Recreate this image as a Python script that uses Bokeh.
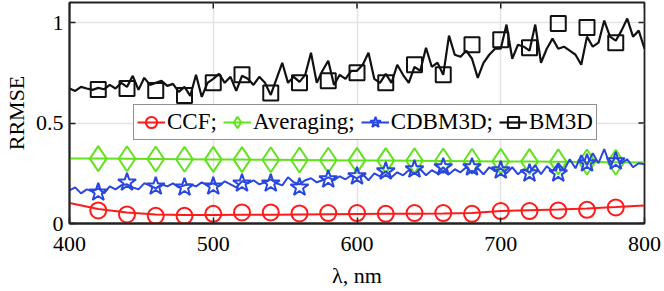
from bokeh.plotting import figure
from bokeh.models import FixedTicker, Legend, LegendItem, Range1d
from bokeh.embed import file_html
from bokeh.resources import INLINE

# ---- data ----
wl_dense = list(range(400, 801, 4))
bm3d_line = [
    0.672, 0.660, 0.680, 0.672, 0.665, 0.675, 0.668, 0.690, 0.672, 0.700,
    0.680, 0.735, 0.665, 0.725, 0.690, 0.700, 0.710, 0.685, 0.695, 0.655,
    0.680, 0.635, 0.740, 0.630, 0.700,
    0.720, 0.745, 0.700, 0.730, 0.660, 0.735, 0.720, 0.690, 0.730, 0.700,
    0.640, 0.720, 0.800, 0.700, 0.730, 0.705, 0.740, 0.850, 0.700, 0.760,
    0.810, 0.690, 0.740, 0.720, 0.760,
    0.760, 0.790, 0.850, 0.720, 0.700, 0.745, 0.700, 0.790, 0.740, 0.700,
    0.780, 0.760, 0.875, 0.780, 0.800, 0.740, 0.935, 0.840, 0.830, 0.860,
    0.820, 0.725, 0.800, 0.840, 0.870,
    0.870, 0.990, 0.820, 0.890, 0.880, 0.860, 0.990, 0.800, 0.870, 0.920,
    0.870, 0.880, 0.860, 0.840, 0.790, 0.930, 0.880, 0.900, 1.010, 0.930,
    0.910, 0.960, 1.020, 0.930, 0.960, 0.870,
]
cdbm3d_line = [
    0.165, 0.180, 0.150, 0.170, 0.160, 0.175, 0.150, 0.185, 0.170, 0.190,
    0.195, 0.180, 0.170, 0.200, 0.190, 0.175, 0.195, 0.185, 0.200, 0.180,
    0.190, 0.195, 0.185, 0.205, 0.190,
    0.200, 0.185, 0.210, 0.195, 0.180, 0.210, 0.200, 0.215, 0.195, 0.205,
    0.220, 0.200, 0.190, 0.230, 0.205, 0.195, 0.215, 0.225, 0.205, 0.215,
    0.230, 0.215, 0.235, 0.220, 0.240,
    0.225, 0.245, 0.215, 0.250, 0.235, 0.260, 0.230, 0.255, 0.240, 0.265,
    0.245, 0.270, 0.240, 0.265, 0.250, 0.280, 0.245, 0.270, 0.255, 0.280,
    0.250, 0.275, 0.245, 0.280, 0.260,
    0.275, 0.250, 0.280, 0.245, 0.270, 0.255, 0.290, 0.245, 0.285, 0.260,
    0.300, 0.265, 0.320, 0.275, 0.340, 0.290, 0.350, 0.300, 0.370, 0.290,
    0.330, 0.300, 0.320, 0.280, 0.300, 0.295,
]
wl_coarse = list(range(400, 801, 20))
avg_line = [0.323, 0.323, 0.322, 0.321, 0.320, 0.319, 0.318, 0.317, 0.316, 0.315,
            0.314, 0.313, 0.312, 0.311, 0.310, 0.309, 0.308, 0.307, 0.306, 0.305, 0.304]
ccf_line = [0.102, 0.072, 0.055, 0.045, 0.042, 0.042, 0.043, 0.044, 0.045, 0.046,
            0.047, 0.048, 0.049, 0.050, 0.052, 0.062, 0.066, 0.070, 0.075, 0.082, 0.090]

wl_marks = list(range(420, 781, 20))
bm3d_marks = [0.667, 0.672, 0.662, 0.637, 0.700, 0.740, 0.650, 0.700, 0.710, 0.750,
              0.700, 0.790, 0.740, 0.890, 0.915, 0.875, 0.995, 0.975, 0.900]
cdbm3d_marks = [0.155, 0.205, 0.185, 0.180, 0.185, 0.200, 0.200, 0.180, 0.220, 0.235,
                0.260, 0.270, 0.280, 0.280, 0.265, 0.250, 0.250, 0.300, 0.310]
avg_marks = [0.323, 0.322, 0.321, 0.320, 0.319, 0.318, 0.317, 0.316, 0.315, 0.314,
             0.313, 0.312, 0.311, 0.310, 0.309, 0.308, 0.307, 0.306, 0.305]
ccf_marks = [0.065, 0.045, 0.038, 0.038, 0.048, 0.055, 0.055, 0.050, 0.052, 0.052,
             0.048, 0.052, 0.052, 0.048, 0.062, 0.062, 0.065, 0.068, 0.080]

x_ticks = [400, 500, 600, 700, 800]
y_ticks = [0, 0.5, 1]
y_labels = {0: "0", 0.5: "0.5", 1: "1"}

RED = "#ff1a1a"
GREEN = "#62e21c"
BLUE = "#2a46e0"
BLACK = "#111111"
FONT = "Liberation Serif"

X0, X1 = 400, 800
Y0, Y1 = 0, 1.1
W, H = 664, 291
BL, BR, BT, BB = 69, 20, 2, 68
FW, FH = W - BL - BR, H - BT - BB

p = figure(width=W, height=H, output_backend="svg", toolbar_location=None,
           x_range=Range1d(X0, X1), y_range=Range1d(Y0, Y1),
           min_border_left=BL, min_border_right=BR, min_border_top=BT, min_border_bottom=BB,
           x_axis_label="λ, nm", y_axis_label="RRMSE")
p.styles = {"position": "absolute", "left": "0px", "top": "0px"}
p.background_fill_color = "white"
p.border_fill_color = "white"
p.outline_line_color = "#222222"
p.outline_line_width = 1.8

for ax in (p.xaxis[0], p.yaxis[0]):
    ax.major_tick_in = 6
    ax.major_tick_out = 0
    ax.minor_tick_line_color = None
    ax.major_tick_line_color = "#222222"
    ax.major_tick_line_width = 1.5
    ax.axis_line_color = "#222222"
    ax.axis_line_width = 1.8
    ax.major_label_text_font = FONT
    ax.major_label_text_font_size = "22px"
    ax.major_label_text_color = "black"
    ax.axis_label_text_font = FONT
    ax.axis_label_text_font_size = "22px"
    ax.axis_label_text_font_style = "normal"
    ax.axis_label_text_color = "black"

p.xaxis[0].ticker = FixedTicker(ticks=x_ticks)
p.yaxis[0].ticker = FixedTicker(ticks=y_ticks)
p.yaxis[0].major_label_overrides = y_labels
p.xaxis[0].major_label_standoff = 13
p.xaxis[0].axis_label_standoff = 9
p.yaxis[0].major_label_standoff = 6
p.yaxis[0].axis_label_standoff = 4

# mirrored ticks on the top and right edges (inward), 6 px long
tick_dy = 6 * (Y1 - Y0) / FH
tick_dx = 6 * (X1 - X0) / FW
p.segment(x0=x_ticks, x1=x_ticks, y0=[Y1] * len(x_ticks), y1=[Y1 - tick_dy] * len(x_ticks),
          line_color="#222222", line_width=1.5)
p.segment(x0=[X1] * len(y_ticks), x1=[X1 - tick_dx] * len(y_ticks), y0=y_ticks, y1=y_ticks,
          line_color="#222222", line_width=1.5)

p.xgrid.ticker = FixedTicker(ticks=x_ticks)
p.ygrid.ticker = FixedTicker(ticks=y_ticks)
p.grid.grid_line_color = "#e3e3e3"
p.grid.grid_line_width = 1.5

r_ccf_l = p.line(wl_coarse, ccf_line, line_color=RED, line_width=2)
r_ccf_m = p.scatter(wl_marks, ccf_marks, marker="circle", size=16, fill_alpha=0,
                    line_color=RED, line_width=2)
r_avg_l = p.line(wl_coarse, avg_line, line_color=GREEN, line_width=2)
r_avg_m = p.scatter(wl_marks, avg_marks, marker="diamond", size=25, fill_alpha=0,
                    line_color=GREEN, line_width=2)
r_cd_l = p.line(wl_dense, cdbm3d_line, line_color=BLUE, line_width=2)
r_cd_m = p.scatter(wl_marks, cdbm3d_marks, marker="star", size=19, fill_alpha=0,
                   line_color=BLUE, line_width=2)
r_bm_l = p.line(wl_dense, bm3d_line, line_color=BLACK, line_width=2.2)
r_bm_m = p.scatter(wl_marks, bm3d_marks, marker="square", size=15, fill_alpha=0,
                   line_color=BLACK, line_width=2)

legend = Legend(items=[
    LegendItem(label="CCF;", renderers=[r_ccf_l, r_ccf_m]),
    LegendItem(label="Averaging;", renderers=[r_avg_l, r_avg_m]),
    LegendItem(label="CDBM3D;", renderers=[r_cd_l, r_cd_m]),
    LegendItem(label="BM3D", renderers=[r_bm_l, r_bm_m]),
], orientation="horizontal", location=(64, 83))
legend.label_text_font = FONT
legend.label_text_font_size = "23px"
legend.label_text_color = "black"
legend.glyph_width = 28
legend.glyph_height = 28
legend.label_standoff = 2
legend.spacing = 6
legend.padding = 3
legend.margin = 0
legend.border_line_color = "#222222"
legend.border_line_width = 1.8
legend.background_fill_alpha = 1
p.add_layout(legend, "center")

open("out.html", "w").write(file_html(p, INLINE))
